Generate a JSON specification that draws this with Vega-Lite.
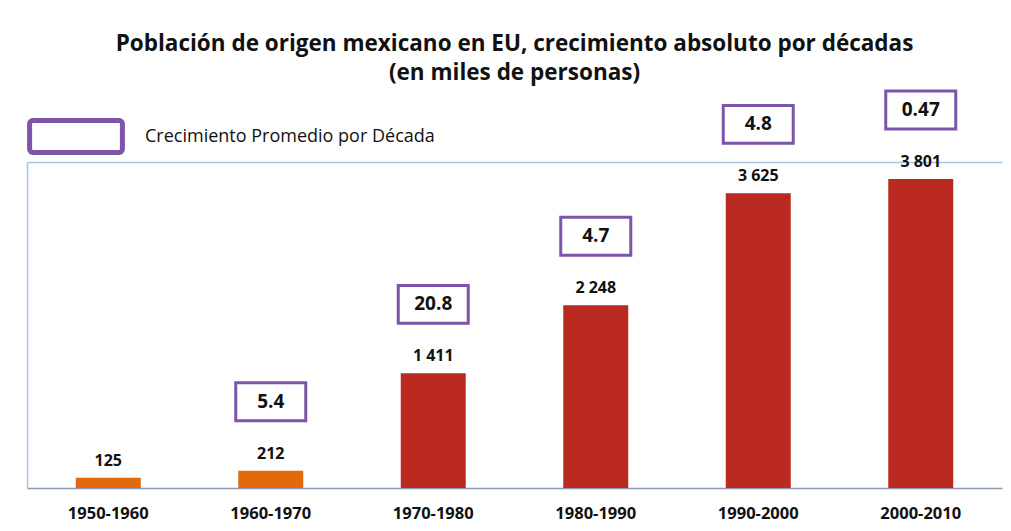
{
  "$schema": "https://vega.github.io/schema/vega-lite/v6.json",
  "width": 975,
  "height": 326,
  "autosize": {"type": "none"},
  "padding": {"left": 27, "top": 162, "right": 9, "bottom": 43},
  "background": "white",
  "config": {
    "font": "Open Sans",
    "view": {"stroke": null},
    "locale": {"number": {"decimal": ".", "thousands": " ", "grouping": [3], "currency": ["", ""]}}
  },
  "title": {
    "text": ["Población de origen mexicano en EU, crecimiento absoluto por décadas", "(en miles de personas)"],
    "font": "Open Sans",
    "fontSize": 22.5,
    "fontWeight": "bold",
    "color": "#111111",
    "lineHeight": 29,
    "anchor": "middle",
    "offset": 1
  },
  "data": {
    "values": [
      {"periodo": "1950-1960", "valor": 125, "crec": null},
      {"periodo": "1960-1970", "valor": 212, "crec": "5.4"},
      {"periodo": "1970-1980", "valor": 1411, "crec": "20.8"},
      {"periodo": "1980-1990", "valor": 2248, "crec": "4.7"},
      {"periodo": "1990-2000", "valor": 3625, "crec": "4.8"},
      {"periodo": "2000-2010", "valor": 3801, "crec": "0.47"}
    ]
  },
  "encoding": {
    "x": {
      "field": "periodo",
      "type": "nominal",
      "sort": null,
      "scale": {"paddingInner": 0.6, "paddingOuter": 0.3},
      "axis": {
        "title": null,
        "labelAngle": 0,
        "labelFontSize": 16.5,
        "labelFontWeight": "bold",
        "labelColor": "#111111",
        "labelPadding": 17,
        "ticks": false,
        "domainColor": "#8d9cb0",
        "domainWidth": 1.5
      }
    },
    "y": {
      "field": "valor",
      "type": "quantitative",
      "scale": {"domain": [0, 4010], "nice": false},
      "axis": {
        "title": null,
        "labels": false,
        "ticks": false,
        "grid": true,
        "values": [4010],
        "gridColor": "#a9c3e4",
        "gridWidth": 1.5,
        "gridOpacity": 1,
        "domainColor": "#a9c3e4",
        "domainWidth": 1.5
      }
    }
  },
  "layer": [
    {
      "mark": {"type": "bar"},
      "encoding": {
        "color": {
          "condition": {"test": "datum.valor < 1000", "value": "#e2690c"},
          "value": "#bb2a20"
        }
      }
    },
    {
      "mark": {"type": "text", "baseline": "bottom", "dy": -9, "fontSize": 16, "fontWeight": "bold", "color": "#111111"},
      "encoding": {
        "text": {"field": "valor", "type": "quantitative", "format": ",d"}
      }
    },
    {
      "transform": [{"filter": "datum.crec != null"}],
      "mark": {
        "type": "point",
        "shape": "M-1,-0.54H1V0.54H-1Z",
        "size": 4900,
        "filled": true,
        "fill": "white",
        "strokeWidth": 3,
        "opacity": 1,
        "yOffset": -69
      },
      "encoding": {
        "stroke": {
          "datum": "Crecimiento Promedio por Década",
          "type": "nominal",
          "scale": {"range": ["#7d55a8"]},
          "legend": {
            "title": null,
            "orient": "none",
            "legendX": 14.5,
            "legendY": -60,
            "padding": 0,
            "symbolType": "M-1.35,-0.5H1.35A0.1,0.1 0 0 1 1.45,-0.4V0.4A0.1,0.1 0 0 1 1.35,0.5H-1.35A0.1,0.1 0 0 1 -1.45,0.4V-0.4A0.1,0.1 0 0 1 -1.35,-0.5Z",
            "symbolSize": 4096,
            "symbolStrokeWidth": 5,
            "symbolFillColor": "white",
            "symbolStrokeColor": "#8a63b4",
            "labelOffset": 34.5,
            "labelFontSize": 18,
            "labelColor": "#111111",
            "labelFont": "Open Sans",
            "labelLimit": 500,
            "labelBaseline": "middle",
            "labelFontWeight": 500
          }
        }
      }
    },
    {
      "transform": [{"filter": "datum.crec != null"}],
      "mark": {"type": "text", "baseline": "middle", "yOffset": -69, "fontSize": 19, "fontWeight": "bold", "color": "#111111"},
      "encoding": {
        "text": {"field": "crec", "type": "nominal"}
      }
    }
  ]
}
